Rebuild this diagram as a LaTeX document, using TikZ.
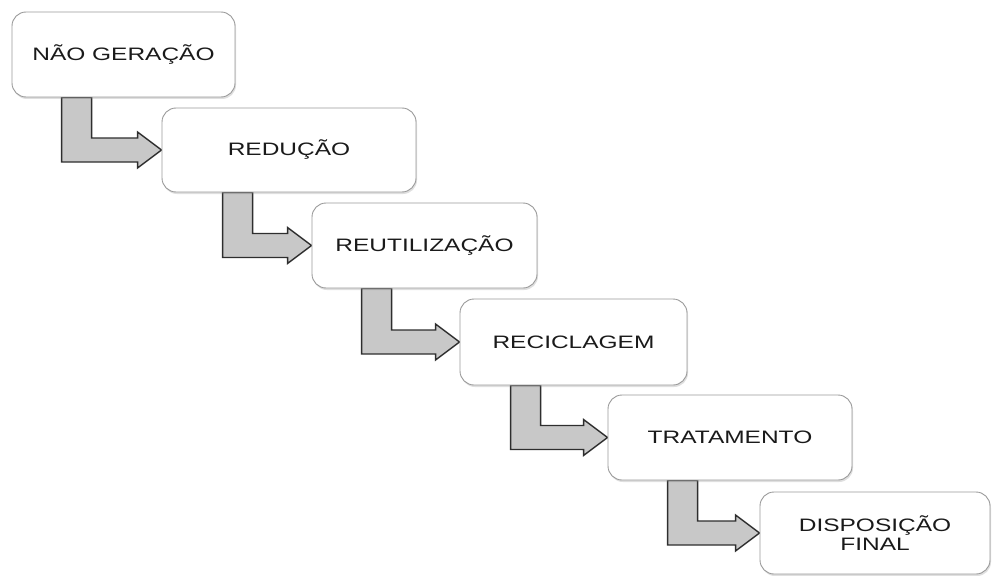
\documentclass[tikz,border=0pt]{standalone}
\usepackage{fontspec}
\setmainfont[FakeStretch=1.36]{Liberation Sans}
\usetikzlibrary{calc,shadows,backgrounds}
\definecolor{boxline}{HTML}{9A9A9A}
\definecolor{arrowfill}{HTML}{C8C8C8}
\definecolor{arrowline}{HTML}{2E2E2E}
\definecolor{txt}{HTML}{1A1A1A}
\tikzset{
  stage/.style={draw=boxline, line width=0.9pt, fill=white, rounded corners=14pt,
    inner sep=0pt, align=center, font=\fontsize{18}{19}\selectfont, text=txt,
    drop shadow={opacity=0.25, shadow xshift=1pt, shadow yshift=-2pt}},
  bent/.style={fill=arrowfill, draw=arrowline, line width=1.4pt, line join=miter}
}
\newcommand\bentarrow[3]{%
  \path[bent] let \p1=(#1.south west), \p2=(#2.west) in
    ({\x1+#3pt},\y1) -- ({\x1+#3pt+30pt},\y1) -- ({\x1+#3pt+30pt},{\y2+12pt})
    -- ({\x2-24pt},{\y2+12pt}) -- ({\x2-24pt},{\y2+18pt}) -- (\x2,\y2)
    -- ({\x2-24pt},{\y2-18pt}) -- ({\x2-24pt},{\y2-12pt})
    -- ({\x1+#3pt},{\y2-12pt}) -- cycle;}
\begin{document}
\begin{tikzpicture}[x=1pt,y=-1pt]
\useasboundingbox (0,0) rectangle (992,575);
\node[stage, minimum width=223pt, minimum height=85pt] (b1) at (123.5,54.5) {NÃO GERAÇÃO};
\node[stage, minimum width=254pt, minimum height=84pt] (b2) at (289,150) {REDUÇÃO};
\node[stage, minimum width=225pt, minimum height=85pt] (b3) at (424.5,245.5) {REUTILIZAÇÃO};
\node[stage, minimum width=227pt, minimum height=86pt] (b4) at (573.5,342) {RECICLAGEM};
\node[stage, minimum width=244pt, minimum height=85pt] (b5) at (730,437.5) {TRATAMENTO};
\node[stage, minimum width=230pt, minimum height=82pt] (b6) at (875,533) {DISPOSIÇÃO\\FINAL};
\begin{pgfonlayer}{background}
\bentarrow{b1}{b2}{50}
\bentarrow{b2}{b3}{61}
\bentarrow{b3}{b4}{50}
\bentarrow{b4}{b5}{51}
\bentarrow{b5}{b6}{60}
\end{pgfonlayer}
\end{tikzpicture}
\end{document}
